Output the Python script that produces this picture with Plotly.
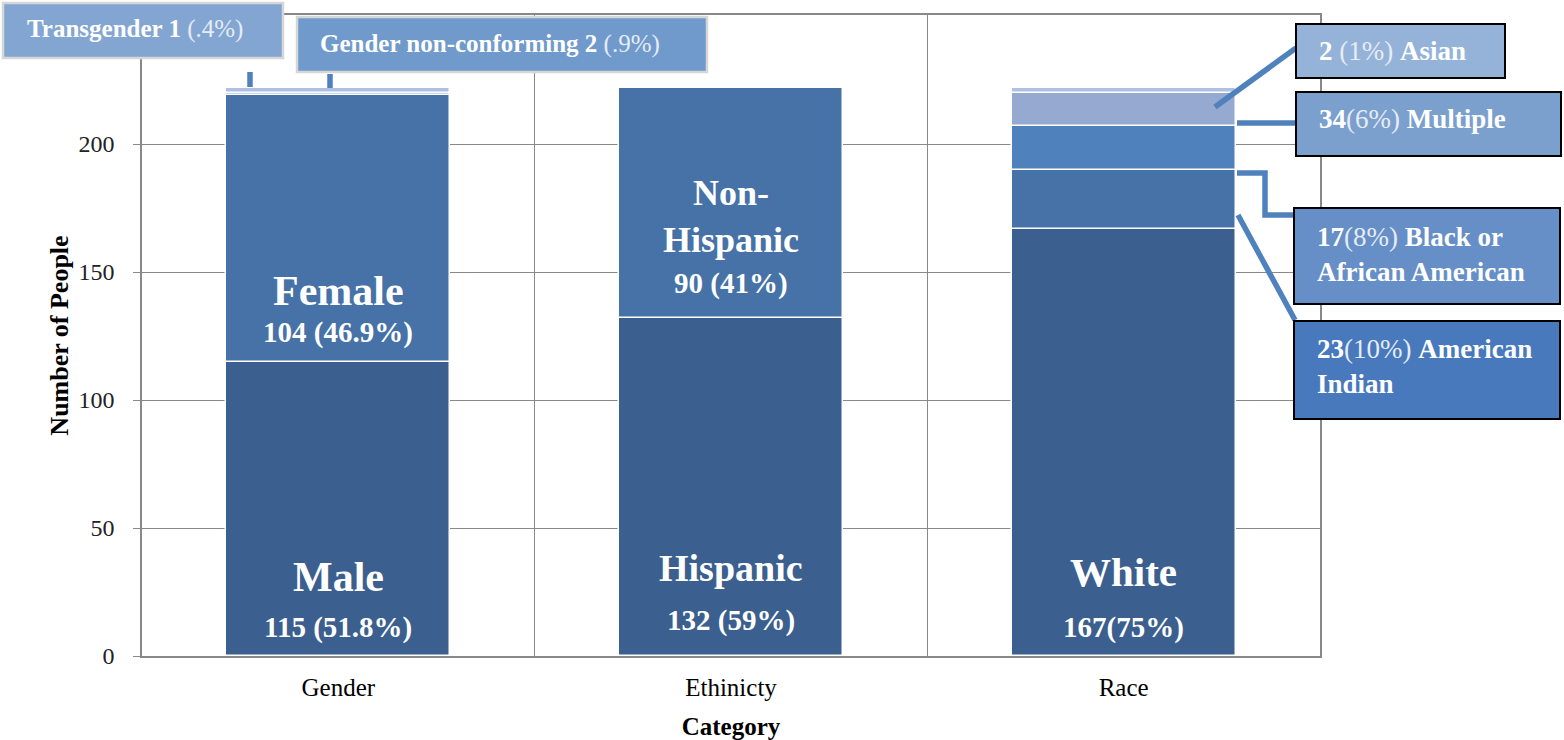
import plotly.graph_objects as go

# ---------------- data ----------------
categories = ["Gender", "Ethinicty", "Race"]

gender_names = ["Male", "Female", "Transgender", "Gender non-conforming"]
gender_values = [115, 104, 1, 2]

ethnicity_names = ["Hispanic", "Non-Hispanic"]
ethnicity_values = [132, 90]

race_names = ["White", "American Indian", "Black or African American", "Multiple", "Asian"]
race_values = [167, 23, 17, 13, 2]

y_ticks = [0, 50, 100, 150, 200]

# ---------------- styling ----------------
FONT = "Liberation Serif"
DARK = "#3B5F8E"
MID = "#4672A8"
BLUE = "#4F81BD"
LAV = "#95A9D1"
LIGHT = "#AFC1E3"
SOFT = "#E6ECF5"

gender_colors = [DARK, MID, LAV, LIGHT]
ethnicity_colors = [DARK, MID]
race_colors = [DARK, MID, BLUE, LAV, LIGHT]

BAR_W = 0.57

fig = go.Figure()


def add_stack(xpos, names, values, colors):
    base = 0
    for n, v, c in zip(names, values, colors):
        fig.add_trace(go.Bar(
            x=[xpos], y=[v], base=[base], name=n, width=BAR_W,
            marker=dict(color=c, line=dict(color="white", width=1.5)),
            showlegend=False, hoverinfo="name+y"))
        base += v


add_stack(0, gender_names, gender_values, gender_colors)
add_stack(1, ethnicity_names, ethnicity_values, ethnicity_colors)
add_stack(2, race_names, race_values, race_colors)

# ---------------- in-bar labels (positions derived from data) ----------------
def seg_y(values, idx, frac):
    return sum(values[:idx]) + values[idx] * frac

inbar = [
    # x, text, values, idx, frac, size
    (0, "<b>Male</b>", gender_values, 0, 0.27, 42),
    (0, "<b>115 (51.8%)</b>", gender_values, 0, 0.096, 29),
    (0, "<b>Female</b>", gender_values, 1, 0.265, 42),
    (0, "<b>104 (46.9%)</b>", gender_values, 1, 0.11, 29),
    (1, "<b>Hispanic</b>", ethnicity_values, 0, 0.26, 38),
    (1, "<b>132 (59%)</b>", ethnicity_values, 0, 0.106, 29),
    (1, "<b>Non-<br>Hispanic</b>", ethnicity_values, 1, 0.44, 36),
    (1, "<b>90 (41%)</b>", ethnicity_values, 1, 0.152, 29),
    (2, "<b>White</b>", race_values, 0, 0.196, 41),
    (2, "<b>167(75%)</b>", race_values, 0, 0.066, 29),
]
annotations = []
for x, t, vals, i, f, s in inbar:
    annotations.append(dict(x=x, y=seg_y(vals, i, f), xref="x", yref="y", text=t,
                            showarrow=False, font=dict(family=FONT, size=s, color="white"),
                            xanchor="center", yanchor="middle"))

# ---------------- call-out boxes (pixel layout -> paper) ----------------
L, R, T, B = 142, 244, 15, 84
W, H = 1564, 740
PW, PH = W - L - R, H - T - B


def px(x):
    return (x - L) / PW


def py(y):
    return (H - B - y) / PH


def soft(s):
    return f"<span style='color:{SOFT}'>{s}</span>"


shapes = []
callouts = [
    # x0, y0, x1, y1, fill, border, bw, text, text_x, text_y, size
    (3, 3, 283, 58, "#82A6D1", "#D6D6D6", 2.5, "<b>Transgender 1</b> " + soft("(.4%)"), 25, 29, 25),
    (297, 17, 707, 72, "#709ACB", "#D6D6D6", 2.5, "<b>Gender non-conforming 2</b> " + soft("(.9%)"), 318, 44, 25),
    (1296, 24, 1505, 78, "#95B3D8", "black", 2, "<b>2</b> " + soft("(1%)") + " <b>Asian</b>", 1317, 51, 27),
    (1296, 92, 1561, 156, "#7BA0CE", "black", 2, "<b>34</b>" + soft("(6%)") + " <b>Multiple</b>", 1317, 119, 27),
    (1294, 208, 1560, 304, "#658FC6", "black", 2,
     "<b>17</b>" + soft("(8%)") + " <b>Black or<br>African American</b>", 1315, 254, 27),
    (1294, 321, 1560, 419, "#4779BC", "black", 2,
     "<b>23</b>" + soft("(10%)") + " <b>American<br>Indian</b>", 1315, 366, 27),
]

leaders = [
    [(250, 72), (250, 87)],
    [(330, 74), (330, 88)],
    [(1215, 107), (1296, 48)],
    [(1237, 123), (1296, 123)],
    [(1237, 173), (1265, 173), (1265, 215), (1294, 215)],
    [(1238, 215), (1295, 320)],
]
for pts in leaders:
    path = "M " + " L ".join(f"{px(a)},{py(b)}" for a, b in pts)
    shapes.append(dict(type="path", path=path, xref="paper", yref="paper",
                       line=dict(color=BLUE, width=5.5), layer="above"))

for x0, y0, x1, y1, fill, bc, bw, text, tx, ty, size in callouts:
    shapes.append(dict(type="rect", xref="paper", yref="paper",
                       x0=px(x0), x1=px(x1), y0=py(y1), y1=py(y0),
                       fillcolor=fill, line=dict(color=bc, width=bw), layer="above"))
    annotations.append(dict(x=px(tx), y=py(ty), xref="paper", yref="paper",
                            text=text, showarrow=False, align="left",
                            xanchor="left", yanchor="middle",
                            font=dict(family=FONT, size=size, color="white")))

GRID = "#888888"

fig.update_layout(
    width=W, height=H, autosize=False,
    margin=dict(l=L, r=R, t=T, b=B, pad=0, autoexpand=False),
    paper_bgcolor="white", plot_bgcolor="white",
    barmode="overlay",
    bargap=0,
    font=dict(family=FONT, color="black"),
    shapes=shapes,
    annotations=annotations,
    xaxis=dict(
        range=[-0.5, 2.5], tickmode="array", tickvals=[0, 1, 2], ticktext=categories,
        showgrid=False, zeroline=False, automargin=False,
        showline=True, linecolor=GRID, linewidth=1.5, mirror=True,
        ticks="", tickfont=dict(family=FONT, size=25, color="black"),
        ticklabelstandoff=8,
        minor=dict(tickmode="array", tickvals=[0.5, 1.5], showgrid=True,
                   gridcolor=GRID, gridwidth=1, ticks=""),
        title=dict(text="<b>Category</b>", font=dict(family=FONT, size=25, color="black"),
                   standoff=20),
    ),
    yaxis=dict(
        range=[0, 250.4], tickmode="array", tickvals=y_ticks,
        showgrid=True, gridcolor=GRID, gridwidth=1, zeroline=False, automargin=False,
        showline=True, linecolor=GRID, linewidth=1.5, mirror=True,
        ticks="outside", ticklen=7, tickcolor=GRID,
        tickfont=dict(family=FONT, size=24, color="#222222"),
        ticklabelstandoff=14,
        title=dict(text="<b>Number of People</b>", font=dict(family=FONT, size=26, color="black"),
                   standoff=2),
    ),
)

fig.write_html("out.html",
               config={"displayModeBar": False},
               post_script="document.body.style.margin='0';document.body.style.overflow='hidden';")
